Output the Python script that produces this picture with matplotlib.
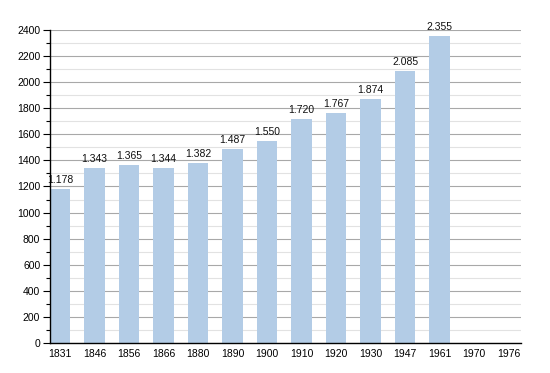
import matplotlib
matplotlib.use("Agg")
import matplotlib.pyplot as plt
import matplotlib.ticker as mticker

plt.rcParams["font.family"] = ["Liberation Sans", "DejaVu Sans"]

# ─── data ─────────────────────────────────────────────────────────────────────
years = ["1831", "1846", "1856", "1866", "1880", "1890", "1900",
         "1910", "1920", "1930", "1947", "1961", "1970", "1976"]
population = [1178, 1343, 1365, 1344, 1382, 1487, 1550,
              1720, 1767, 1874, 2085, 2355, None, None]

BAR_COLOR = "#b3cce6"

fig = plt.figure(figsize=(5.5, 3.73), dpi=100)
ax = fig.add_axes([50 / 550, 30 / 373, 471 / 550, 313 / 373])

x = list(range(len(years)))
heights = [v if v is not None else 0 for v in population]
bars = ax.bar(x, heights, width=0.6, color=BAR_COLOR, zorder=3)

# value labels, dot as thousands separator
for xi, v in zip(x, population):
    if v is None:
        continue
    ax.text(xi, v + 30, f"{v:,}".replace(",", "."), ha="center", va="bottom",
            fontsize=7.5, color="#111111", zorder=4)

ax.set_xlim(-0.29, 13.36)
ax.set_ylim(0, 2400)
ax.set_xticks(x)
ax.set_xticklabels(years, fontsize=7.5)
ax.yaxis.set_major_locator(mticker.MultipleLocator(200))
ax.yaxis.set_minor_locator(mticker.MultipleLocator(100))
ax.tick_params(axis="y", labelsize=7.5, length=5, width=0.8, pad=2)
ax.tick_params(axis="y", which="minor", length=3, width=0.8)
ax.tick_params(axis="x", length=0, pad=4)

ax.grid(axis="y", which="major", color="#a8a8a8", linewidth=0.8, zorder=1)
ax.grid(axis="y", which="minor", color="#e2e2e2", linewidth=0.8, zorder=1)

for side in ["top", "right"]:
    ax.spines[side].set_visible(False)
for side in ["left", "bottom"]:
    ax.spines[side].set_linewidth(1.0)
    ax.spines[side].set_zorder(5)

fig.savefig("out.png", dpi=100)
